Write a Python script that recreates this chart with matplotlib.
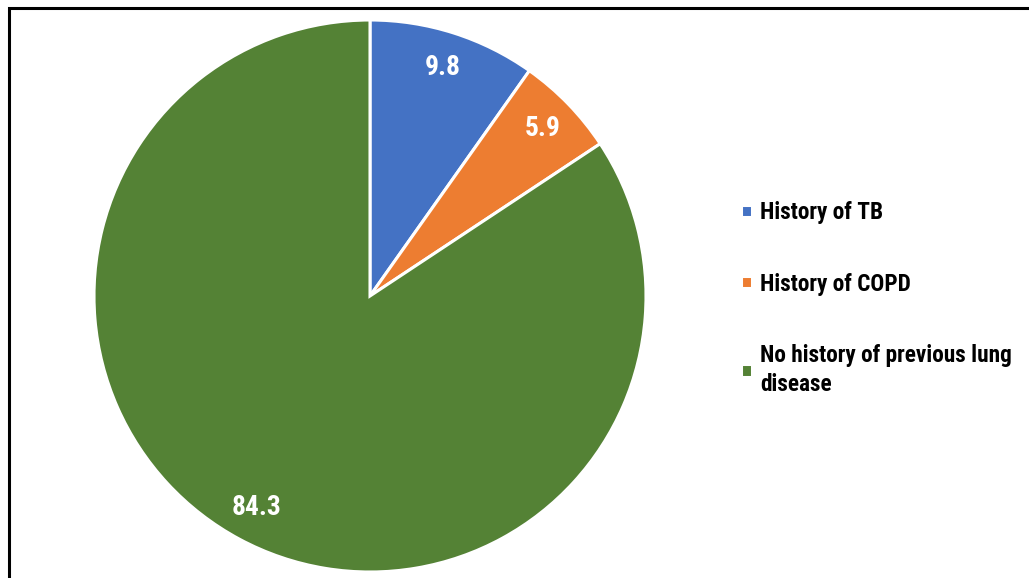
import matplotlib
matplotlib.use('Agg')
import matplotlib.pyplot as plt
from matplotlib.patches import Rectangle
from matplotlib import font_manager

# Data
categories = ['History of TB', 'History of COPD', 'No history of previous lung\ndisease']
values = [9.8, 5.9, 84.3]
colors = ['#4472C4', '#ED7D31', '#548235']


def is_bold(f):
    w = f.weight
    if isinstance(w, str):
        return 'bold' in w.lower() or w.lower() in ('heavy', 'black')
    return w >= 600


# want an Arial Narrow Bold look-alike; prefer the milder condensed faces
bold_fams = {f.name for f in font_manager.fontManager.ttflist if is_bold(f)}
prefer = ['Liberation Sans Narrow', 'Arial Narrow', 'Roboto Condensed',
          'Open Sans Condensed', 'Noto Sans Condensed', 'DejaVu Sans Condensed']
family = next((n for n in prefer if n in bold_fams), None)
if family is None:
    others = sorted(n for n in bold_fams if 'Narrow' in n or 'Condensed' in n)
    family = others[0] if others else 'Liberation Sans'
plt.rcParams['font.family'] = [family, 'DejaVu Sans']

W, H = 1029, 578
fig = plt.figure(figsize=(W / 100, H / 100), dpi=100)
fig.patch.set_facecolor('white')
renderer = fig.canvas.get_renderer()

# pie axes placed in pixel terms: center (370, 296), radius ~276
cx, cy, r = 370, 296, 276
ax = fig.add_axes([(cx - r) / W, (H - cy - r) / H, 2 * r / W, 2 * r / H])

wedges, texts, autotexts = ax.pie(
    values, colors=colors, startangle=90, counterclock=False,
    autopct=lambda p: f'{p:.1f}', pctdistance=0.87, radius=1,
    wedgeprops=dict(edgecolor='white', linewidth=2.2))
for t in autotexts:
    t.set_color('white')
    t.set_fontsize(20)
    t.set_fontweight('bold')
ax.set_aspect('equal')
ax.set_xlim(-1, 1)
ax.set_ylim(-1, 1)

# scale label size so "9.8" is ~36 px wide as in the original
w = autotexts[0].get_window_extent(renderer).width
lbl_size = min(24, 20 * 36 / w)
for t in autotexts:
    t.set_fontsize(lbl_size)

# legend size: "History of TB" is ~123 px wide in the original
probe = fig.text(0, 0, categories[0], fontsize=15, fontweight='bold')
leg_size = min(17, 15 * 123 / probe.get_window_extent(renderer).width)
probe.remove()
fs_px = leg_size * 100 / 72


def make_legend(anchor, spacing):
    lg = fig.legend(wedges, categories, loc='upper left',
                    bbox_to_anchor=(anchor[0] / W, 1 - anchor[1] / H),
                    frameon=False, handlelength=0.45, handleheight=0.45,
                    handletextpad=0.35, labelspacing=spacing,
                    prop=dict(size=leg_size, weight='bold'))
    for t in lg.get_texts():
        t.set_linespacing(1.35)
    return lg


# first pass, then correct spacing and position to the original's rows
spacing0 = 2.2
leg = make_legend((725, 186), spacing0)
fig.canvas.draw()
b = [t.get_window_extent(renderer) for t in leg.get_texts()]
pitch = b[0].y0 - b[1].y0
h_row = pitch - spacing0 * fs_px
spacing = (71 - h_row) / fs_px
leg.remove()
leg = make_legend((725, 186), spacing)
fig.canvas.draw()
b0 = leg.get_texts()[0].get_window_extent(renderer)
dx = 760 - b0.x0
dy = 213 - (H - (b0.y0 + b0.y1) / 2)
leg.remove()
leg = make_legend((725 + dx, 186 + dy), spacing)

# outer frame (right and bottom edges fall outside the picture)
fig.patches.append(Rectangle((8.5 / W, -0.05), 1.1, 1 - 8 / H + 0.05,
                             transform=fig.transFigure, fill=False,
                             edgecolor='black', linewidth=2.2))

fig.savefig('out.png', dpi=100)
